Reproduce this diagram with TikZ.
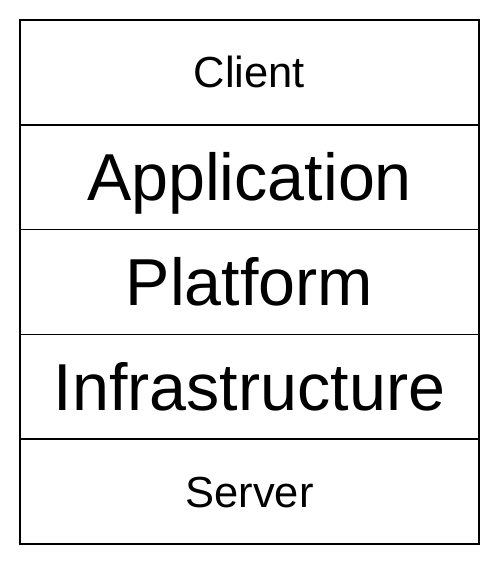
\documentclass[tikz,border=0pt]{standalone}
\usepackage{fontspec}
\setmainfont{Liberation Sans}
\begin{document}
\begin{tikzpicture}[x=0.75pt,y=-0.75pt,
  layer/.style={draw=black, line width=1.1pt, rectangle, inner sep=0pt,
    minimum width=344.25pt, minimum height=78.6pt, text depth=0pt},
  small/.style={font=\fontsize{32.6pt}{37pt}\selectfont, text height=23.3pt},
  big/.style={font=\fontsize{49.8pt}{56pt}\selectfont, text height=35.65pt}]
\useasboundingbox (0,0) rectangle (500,565);
\node[layer, small] (client) at (249.5,72.4) {Client};
\node[layer, big]   (app)    at (249.5,177.2) {Application};
\node[layer, big]   (plat)   at (249.5,282.0) {Platform};
\node[layer, big]   (infra)  at (249.5,386.8) {Infrastructure};
\node[layer, small] (server) at (249.5,491.6) {Server};
\end{tikzpicture}
\end{document}
